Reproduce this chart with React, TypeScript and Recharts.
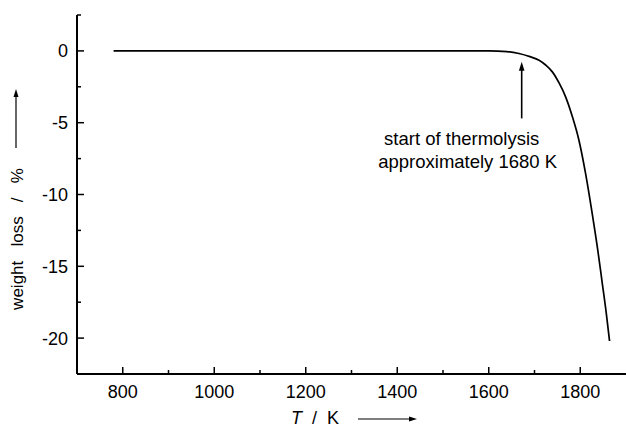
import { Line, LineChart, ReferenceDot, ReferenceLine, XAxis, YAxis } from 'recharts';

// temperature in K and weight change in %
const temps = [
	780, 900, 1000, 1100, 1200, 1300, 1400, 1500, 1600, 1640, 1666, 1690, 1710,
	1725, 1739, 1754, 1768, 1783, 1797, 1812, 1826, 1838, 1848, 1857, 1864,
];
const loss = [
	0, 0, 0, 0, 0, 0, 0, 0, 0, -0.05, -0.18, -0.4, -0.65, -1.0, -1.46, -2.25,
	-3.2, -4.6, -6.2, -8.6, -11.3, -13.8, -16.15, -18.3, -20.2,
];

const xTicks = [800, 900, 1000, 1100, 1200, 1300, 1400, 1500, 1600, 1700, 1800];
const xLabels = [800, 1000, 1200, 1400, 1600, 1800];
const yTicks = [2.5, 0, -2.5, -5, -7.5, -10, -12.5, -15, -17.5, -20];
const yLabels = [0, -5, -10, -15, -20];

const onsetT = 1672;

const data = temps.map((t, i) => ({ t, w: loss[i] }));

const font = '"Liberation Sans", Arial, sans-serif';

function XTick(props: any) {
	const { x, y, payload } = props;
	const major = xLabels.includes(payload.value);
	return (
		<g>
			<line x1={x} x2={x} y1={y} y2={y - (major ? 7 : 4)} stroke="#000" strokeWidth={1.5} />
			{major && (
				<text x={x} y={y + 24} textAnchor="middle" fontSize={18} fontFamily={font} fill="#000">
					{payload.value}
				</text>
			)}
		</g>
	);
}

function YTick(props: any) {
	const { x, y, payload } = props;
	const major = yLabels.includes(payload.value);
	return (
		<g>
			<line x1={x} x2={x + (major ? 7 : 4)} y1={y} y2={y} stroke="#000" strokeWidth={1.5} />
			{major && (
				<text x={x - 9} y={y + 6.5} textAnchor="end" fontSize={18} fontFamily={font} fill="#000">
					{payload.value}
				</text>
			)}
		</g>
	);
}

function YTitle() {
	return (
		<g>
			<text
				x={239}
				y={0}
				transform="translate(23 0) rotate(-90 0 0) translate(-478 0)"
				textAnchor="middle"
				fontSize={17}
				fontFamily={font}
				fill="#000"
			>
				{'weight\u00a0\u00a0\u00a0loss\u00a0\u00a0\u00a0/\u00a0\u00a0\u00a0%'}
			</text>
			<line x1={16} x2={16} y1={148} y2={95} stroke="#000" strokeWidth={1.2} />
			<path d="M16,89 L13.5,97 L18.5,97 Z" fill="#000" />
		</g>
	);
}

function XTitle() {
	return (
		<g>
			<text x={291} y={424} fontSize={18} fontFamily={font} fill="#000">
				<tspan fontStyle="italic">T</tspan>
				{'\u00a0\u00a0/\u00a0\u00a0K'}
			</text>
			<line x1={358} x2={411} y1={419} y2={419} stroke="#000" strokeWidth={1.2} />
			<path d="M417,419 L409,416.5 L409,421.5 Z" fill="#000" />
		</g>
	);
}

function ArrowHead(props: any) {
	const { cx, cy } = props;
	return <path d={`M${cx},${cy} L${cx - 2.8},${cy + 9} L${cx + 2.8},${cy + 9} Z`} fill="#000" />;
}

function Note(props: any) {
	const { cx, cy } = props;
	return (
		<g fontSize={18.5} fontFamily={font} fill="#000">
			<text x={cx - 60} y={cy + 27} textAnchor="middle">
				start of thermolysis
			</text>
			<text x={cx - 54} y={cy + 50} textAnchor="middle">
				approximately 1680 K
			</text>
		</g>
	);
}

export default function App() {
	return (
		<div style={{ position: 'absolute', left: 0, top: 0, width: 626, height: 428, background: '#fff' }}>
			<LineChart width={626} height={428} data={data} margin={{ top: 15, right: 0, bottom: 0, left: 0 }}>
				<XAxis
					dataKey="t"
					type="number"
					domain={[700, 1900]}
					ticks={xTicks}
					interval={0}
					height={54}
					tickSize={0}
					tickMargin={0}
					tickLine={false}
					axisLine={{ stroke: '#000', strokeWidth: 2 }}
					tick={(p: any) => <XTick {...p} />}
					label={{ content: () => <XTitle /> }}
				/>
				<YAxis
					type="number"
					domain={[-22.5, 2.5]}
					ticks={yTicks}
					interval={0}
					width={77}
					tickSize={0}
					tickMargin={0}
					tickLine={false}
					axisLine={{ stroke: '#000', strokeWidth: 2 }}
					tick={(p: any) => <YTick {...p} />}
					label={{ content: () => <YTitle /> }}
				/>
				<Line
					type="monotone"
					dataKey="w"
					stroke="#000"
					strokeWidth={1.7}
					dot={false}
					isAnimationActive={false}
				/>
				<ReferenceLine
					segment={[
						{ x: onsetT, y: -1.2 },
						{ x: onsetT, y: -4.7 },
					]}
					stroke="#000"
					strokeWidth={1.6}
				/>
				<ReferenceDot x={onsetT} y={-0.75} shape={(p: any) => <ArrowHead {...p} />} />
				<ReferenceDot x={onsetT} y={-4.7} shape={(p: any) => <Note {...p} />} />
			</LineChart>
		</div>
	);
}
